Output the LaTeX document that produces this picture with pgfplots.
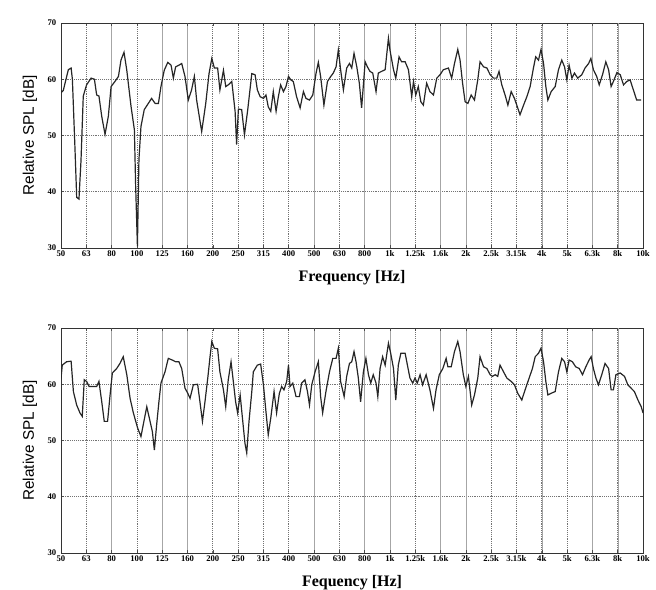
\documentclass[border=0pt]{standalone}
\usepackage{fontspec}
\setmainfont{Liberation Serif}
\newfontfamily\labelsans{Liberation Sans}
\usepackage{pgfplots}
\usepackage{pgfplotstable}
\pgfplotsset{compat=1.18}

% x = third-octave band index (0 = 50 Hz ... 23 = 10 kHz)
\pgfplotstableread{
f spl
0 57.6
0.09 58
0.29 61.7
0.40 62
0.45 60
0.55 48
0.62 39
0.71 38.7
0.79 45.5
0.88 57
1.01 59
1.19 60.2
1.32 60
1.41 57.2
1.50 57
1.61 53.4
1.74 50.2
1.87 53.4
1.98 58.7
2.13 59.6
2.27 60.5
2.37 63.4
2.49 64.8
2.60 61.6
2.77 55.1
2.90 51
2.95 41
3.02 30.3
3.08 45.7
3.16 51.6
3.29 54.6
3.45 55.7
3.58 56.6
3.72 55.7
3.85 55.7
3.95 58.7
4.08 61.6
4.22 63
4.35 62.5
4.44 60.2
4.53 62.2
4.66 62.5
4.77 62.8
4.90 60.5
5.03 56.3
5.16 58.1
5.27 60.5
5.36 56.3
5.56 50.7
5.72 55.7
5.85 61
5.96 63.7
6.06 62
6.19 62
6.28 58.1
6.42 61.6
6.51 58.7
6.61 59
6.75 59.6
6.88 54.3
6.94 48.4
7.01 54.7
7.14 54.6
7.25 50.1
7.38 54.6
7.54 61
7.67 60.8
7.76 58.1
7.87 56.9
8.00 56.6
8.10 57.2
8.19 55.1
8.29 54.3
8.39 57.8
8.50 54.3
8.59 56.9
8.68 59
8.79 57.8
8.89 58.7
8.99 60.5
9.08 59.9
9.18 59.6
9.31 56.9
9.45 54.9
9.58 57.8
9.68 56.6
9.82 56.3
9.95 57.2
10.08 61.1
10.17 63
10.26 60.5
10.39 55.4
10.53 59.6
10.66 60.5
10.76 61.1
10.87 62.2
10.96 65.2
11.05 61.7
11.16 58.1
11.29 62
11.40 62.8
11.49 62
11.58 64.6
11.69 62.2
11.79 59.3
11.88 54.9
12.02 63.1
12.11 62.2
12.21 61.4
12.32 61.1
12.45 57.8
12.54 61.1
12.67 61.4
12.81 61.7
12.87 64.3
12.94 67.3
13.00 65.2
13.14 61.7
13.23 60.2
13.36 64
13.46 63.1
13.60 63.1
13.73 61.7
13.86 56.9
13.93 59.6
14.02 57.2
14.12 58.7
14.22 56
14.32 55.4
14.45 59.3
14.58 57.8
14.72 57.2
14.85 60.2
14.98 60.8
15.11 61.7
15.31 62
15.44 60.2
15.55 62.8
15.68 65.3
15.77 63.4
15.87 59.3
15.97 56
16.08 55.7
16.21 57.2
16.34 56.3
16.47 59.9
16.56 63.1
16.70 62.2
16.83 62
16.96 60.8
17.09 60.2
17.22 60.2
17.31 61.4
17.42 59
17.55 57.2
17.66 55.4
17.79 57.8
17.92 56.6
18.05 54.9
18.14 53.7
18.28 55.4
18.41 56.9
18.54 58.7
18.67 62
18.76 64
18.87 63.4
18.97 65.3
19.07 62.8
19.16 58.7
19.24 56.3
19.37 57.8
19.53 58.7
19.66 61.7
19.79 63.4
19.90 62.2
19.99 59.9
20.08 62.5
20.19 60.2
20.29 61.1
20.42 60.2
20.58 60.8
20.71 62
20.85 62.8
20.94 63.7
21.04 61.7
21.17 60.5
21.27 59
21.40 60.8
21.53 63.1
21.64 61.7
21.74 58.7
21.83 59.6
21.97 61.2
22.10 60.8
22.23 59
22.36 59.6
22.49 59.9
22.62 58.1
22.75 56.3
22.93 56.3
}\splupper

\pgfplotstableread{
f spl
0 61
0.05 63.4
0.22 64
0.40 64.1
0.49 58.7
0.62 56.3
0.75 54.9
0.84 54.3
0.92 60.8
1.01 60.5
1.11 59.6
1.28 59.6
1.41 59.6
1.50 60.5
1.61 56.9
1.71 53.4
1.84 53.4
1.94 58.1
2.03 62
2.20 62.8
2.33 63.7
2.46 64.9
2.60 61.7
2.73 57.5
2.86 54.9
3.03 52.2
3.16 50.7
3.25 52.8
3.39 56
3.52 53.4
3.61 51.6
3.69 48.3
3.78 52.8
3.87 56.9
3.95 60.2
4.11 62.2
4.24 64.6
4.40 64.3
4.53 64
4.66 64
4.77 62.8
4.90 59.3
5.01 58.4
5.10 57.5
5.23 59.9
5.40 60
5.49 56.9
5.59 53.4
5.69 56.9
5.80 61.1
5.89 64.9
5.96 67.6
6.06 66.4
6.19 66.3
6.28 62.2
6.42 59
6.51 56
6.61 60.8
6.72 64
6.81 60.5
6.90 56.9
6.98 54.9
7.08 58.1
7.17 54
7.27 49.5
7.34 47.8
7.43 53.4
7.54 58.7
7.60 62.2
7.76 63.4
7.89 63.6
8.00 59.9
8.10 55.1
8.19 51
8.29 54
8.42 58.7
8.52 54.9
8.63 58.4
8.72 59.6
8.81 59
8.92 60.5
8.99 63.4
9.05 59.6
9.16 60.2
9.29 57.8
9.42 57.8
9.51 60.2
9.64 60.8
9.74 58.7
9.82 56.3
9.91 59.9
10.04 62.2
10.17 64
10.26 57.8
10.34 54.9
10.47 58.7
10.61 62.2
10.74 64.6
10.87 64.6
10.96 66.4
11.05 60.5
11.19 57.8
11.29 61.4
11.40 63.7
11.49 64
11.58 65.8
11.66 64
11.75 61.1
11.84 56.9
11.95 62.2
12.05 64.6
12.15 61.7
12.24 60.2
12.34 61.7
12.45 60.2
12.52 57.8
12.61 62.8
12.71 64.9
12.81 63.4
12.94 67.3
13.03 65.5
13.14 62.8
13.23 57.2
13.33 63.4
13.43 65.5
13.60 65.5
13.69 63.4
13.79 61.1
13.90 60.2
13.99 61.1
14.08 60.2
14.19 61.7
14.29 59.9
14.43 61.7
14.58 59
14.72 55.7
14.82 59
14.95 61.7
15.09 62.8
15.22 64.6
15.29 63.1
15.42 63.1
15.55 65.8
15.68 67.6
15.77 65.8
15.90 61.7
16.00 59.6
16.10 61.4
16.23 56.3
16.34 58.1
16.47 61.1
16.56 64.9
16.70 63.1
16.83 62.8
16.96 61.7
17.05 61.4
17.16 61.7
17.26 61.4
17.35 63.4
17.49 62.2
17.62 61.1
17.79 60.5
17.92 59.9
18.05 58.4
18.21 57.2
18.34 59
18.50 61.1
18.63 62.8
18.74 64.9
18.87 65.5
18.97 66.4
19.07 64
19.16 60.5
19.24 58.1
19.37 58.4
19.53 58.7
19.66 62.2
19.79 64.6
19.90 64
19.99 62.2
20.08 64.3
20.21 64
20.34 63.1
20.48 62.8
20.61 61.7
20.74 63.1
20.87 64.3
20.95 64.9
21.04 62.8
21.14 61.1
21.24 59.9
21.37 61.7
21.50 63.7
21.64 62.8
21.74 59
21.83 59
21.93 61.7
22.10 62
22.27 61.4
22.40 59.9
22.53 59.3
22.66 58.7
22.80 57.2
22.93 56
23.0 54.9
}\spllower

\pgfplotsset{splaxis/.style={
  width=436.5pt, height=168.75pt, scale only axis,
  xmin=0, xmax=23, ymin=30, ymax=70,
  xtick={0,...,23},
  xticklabels={50,63,80,100,125,160,200,250,315,400,500,630,800,1k,1.25k,1.6k,2k,2.5k,3.15k,4k,5k,6.3k,8k,10k},
  ytick={30,40,50,60,70},
  /pgf/number format/assume math mode=true,
  ticklabel style={font=\bfseries\fontsize{6.5}{7}\selectfont},
  xticklabel style={inner sep=1.5pt},
  tick align=inside, major tick length=2pt,
  tick style={black!70, thin},
  axis line style={black!80, line width=0.6pt},
  grid=major,
  major grid style={black!55, densely dotted, line width=0.5pt},
  extra x ticks={2,4,5,10,12,13,15,16,19,21,22},
  extra x tick labels={},
  extra x tick style={grid=major, major grid style={black!35, solid, line width=0.3pt}},
  ylabel={Relative SPL [dB]},
  ylabel style={font=\labelsans\fontsize{11.5}{12}\selectfont, at={(axis description cs:-0.0533,0.5)}, anchor=center},
  xlabel style={font=\bfseries\fontsize{12}{13}\selectfont, at={(axis description cs:0.5,-0.133)}, anchor=center},
}}

\begin{document}
\begin{tikzpicture}
\useasboundingbox (0,0) rectangle (492pt,-441.75pt);
\begin{axis}[splaxis, at={(45.75pt,-17.25pt)}, anchor=north west,
  xlabel={Frequency [Hz]}]
\addplot[black!85, line width=0.9pt] table[x=f, y=spl] {\splupper};
\end{axis}
\begin{axis}[splaxis, at={(45.75pt,-246pt)}, anchor=north west,
  xlabel={Fequency [Hz]}]
\addplot[black!85, line width=0.9pt] table[x=f, y=spl] {\spllower};
\end{axis}
\end{tikzpicture}
\end{document}
